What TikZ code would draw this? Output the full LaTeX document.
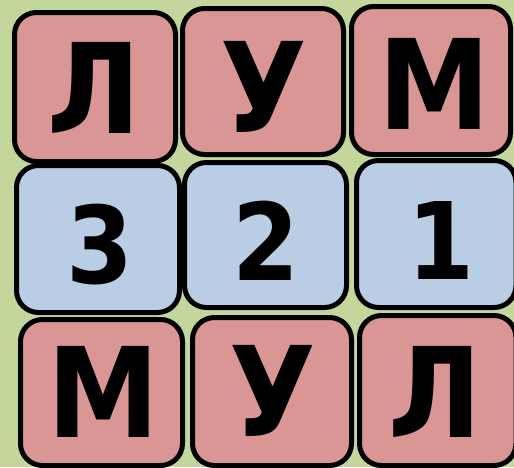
\documentclass[tikz,border=0pt]{standalone}
\usepackage{fontspec}
\setmainfont{Carlito}
\newfontfamily\tilefont{DejaVu Sans Condensed}
\definecolor{bgg}{HTML}{C3D69B}
\definecolor{tred}{HTML}{D99694}
\definecolor{tblue}{HTML}{B9CDE5}
\tikzset{
  tile/.style={draw=black, line width=5pt, rounded corners=22pt},
  redtile/.style={tile, fill=tred},
  bluetile/.style={tile, fill=tblue},
  letter/.style={anchor=base, inner sep=0pt, text depth=0pt, font=\tilefont\fontsize{125}{125}\bfseries\selectfont},
  digit/.style={anchor=base, inner sep=0pt, text depth=0pt, font=\tilefont\fontsize{107}{107}\bfseries\selectfont}
}
\begin{document}
\begin{tikzpicture}[x=1pt,y=-1pt]
\path[fill=bgg] (0,0) rectangle (514,467);
\useasboundingbox (0,0) rectangle (514,467);
% top row
\draw[redtile] (14.5,12.5) rectangle (175.5,161.5);
\draw[redtile] (182.5,8.5) rectangle (343.5,154.5);
\draw[redtile] (351.5,6.5) rectangle (510.5,154.5);
% middle row
\draw[bluetile] (16.5,165.5) rectangle (179.5,312.5);
\draw[bluetile] (184.5,162.5) rectangle (346.5,307.5);
\draw[bluetile] (356.5,160.5) rectangle (516,307.5);
% bottom row
\draw[redtile] (20.5,319.5) rectangle (182.5,465.5);
\draw[redtile] (192.5,317.5) rectangle (351.5,465.5);
\draw[redtile] (359.5,315.5) rectangle (516,465.5);
% texts
\node[letter] (l1) at (94,133) {Л};
\node[letter] (u1) at (264,132) {У};
\node[letter] (m1) at (434,129) {М};
\node[digit] (d3) at (100,283) {3};
\node[digit] (d2) at (266,280) {2};
\node[digit] (d1) at (441,279) {1};
\node[letter] (m2) at (103,437) {М};
\node[letter] (u2) at (273,436) {У};
\node[letter] (l2) at (435,437) {Л};
\end{tikzpicture}
\end{document}
